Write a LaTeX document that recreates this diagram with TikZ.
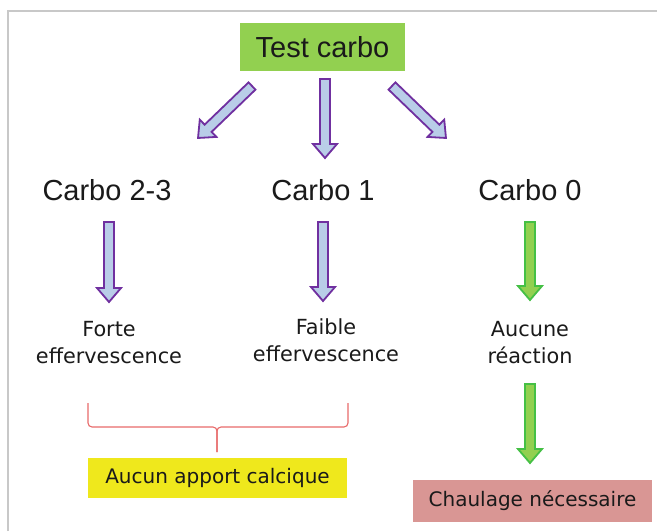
\documentclass[tikz,border=0pt]{standalone}
\usepackage{fontspec}
\setmainfont{DejaVu Sans}
\newfontfamily\arialf{Liberation Sans}
\usetikzlibrary{calc}
\definecolor{boxgreen}{HTML}{92D050}
\definecolor{arrpurple}{HTML}{7030A0}
\definecolor{arrblue}{HTML}{B9CDE8}
\definecolor{arrgreen}{HTML}{45C045}
\definecolor{arrgreenfill}{HTML}{92D050}
\definecolor{boxyellow}{HTML}{EFE81C}
\definecolor{boxpink}{HTML}{D99694}
\definecolor{bracered}{HTML}{E86A6A}
\definecolor{framegray}{HTML}{C8C8C8}
\definecolor{textdark}{HTML}{1A1A1A}
\tikzset{
  purplearrow/.style={draw=arrpurple, fill=arrblue, line width=1.8pt, line join=miter},
  greenarrow/.style={draw=arrgreen, fill=arrgreenfill, line width=1.8pt, line join=miter},
  carbolabel/.style={font=\arialf\fontsize{29}{32}\selectfont, inner sep=0pt, text=textdark},
  smalllabel/.style={font=\fontsize{20.8}{27}\selectfont, align=center, inner sep=0pt, text=textdark},
  colbox/.style={font=\fontsize{20}{24}\selectfont, inner sep=0pt, text=textdark},
}
% block arrow from #2 to #3
\newcommand\blockarrow[3]{%
  \draw[#1] let \p1=(#2), \p2=(#3), \n1={atan2(\y2-\y1,\x2-\x1)}, \n2={veclen(\x2-\x1,\y2-\y1)} in
    [shift={(\p1)}, rotate=\n1]
    (0pt,-5pt) -- ({\n2-14pt},-5pt) -- ({\n2-14pt},-12pt) -- (\n2,0pt)
    -- ({\n2-14pt},12pt) -- ({\n2-14pt},5pt) -- (0pt,5pt) -- cycle;}
\begin{document}
\begin{tikzpicture}[x=1pt,y=-1pt]
\useasboundingbox (0,0) rectangle (657,531);
\fill[white] (0,0) rectangle (657,531);
% frame
\draw[framegray, line width=2pt] (8,531) -- (8,11) -- (657,11);

% nodes
\node[fill=boxgreen, minimum width=165pt, minimum height=48pt, inner sep=0pt, text=textdark,
      font=\arialf\fontsize{29}{32}\selectfont] (test) at (322.5,47) {Test carbo};
\node[carbolabel] (c23) at (107,190) {Carbo 2-3};
\node[carbolabel] (c1) at (323,190) {Carbo 1};
\node[carbolabel] (c0) at (530,190) {Carbo 0};
\node[smalllabel] (forte) at (109,343) {Forte\\effervescence};
\node[smalllabel] (faible) at (326,340) {Faible\\effervescence};
\node[smalllabel] (aucune) at (530,343) {Aucune\\réaction};
\node[colbox, fill=boxyellow, minimum width=259pt, minimum height=40pt] (apport) at (217.5,478) {Aucun apport calcique};
\node[colbox, fill=boxpink, minimum width=239pt, minimum height=42pt] (chaul) at (532.5,501) {Chaulage nécessaire};

% arrow end points
\coordinate (a1s) at (252,86);  \coordinate (a1e) at (198,138);
\coordinate (a2s) at (325,79);  \coordinate (a2e) at (325,158);
\coordinate (a3s) at (392,86);  \coordinate (a3e) at (446,138);
\coordinate (b1s) at (109,222); \coordinate (b1e) at (109,302);
\coordinate (b2s) at (323,222); \coordinate (b2e) at (323,301);
\coordinate (b3s) at (530,222); \coordinate (b3e) at (530,300);
\coordinate (g2s) at (530,384); \coordinate (g2e) at (530,463);

\blockarrow{purplearrow}{a1s}{a1e}
\blockarrow{purplearrow}{a2s}{a2e}
\blockarrow{purplearrow}{a3s}{a3e}
\blockarrow{purplearrow}{b1s}{b1e}
\blockarrow{purplearrow}{b2s}{b2e}
\blockarrow{greenarrow}{b3s}{b3e}
\blockarrow{greenarrow}{g2s}{g2e}

% brace
\coordinate (brl) at (88,403);
\coordinate (brr) at (348,403);
\coordinate (brt) at (217,452);
\draw[bracered, line width=1.1pt, rounded corners=4pt]
  (brl) -- (88,427) -- (217,427) -- (brt);
\draw[bracered, line width=1.1pt, rounded corners=4pt]
  (brr) -- (348,427) -- (217,427) -- (brt);
\end{tikzpicture}
\end{document}
